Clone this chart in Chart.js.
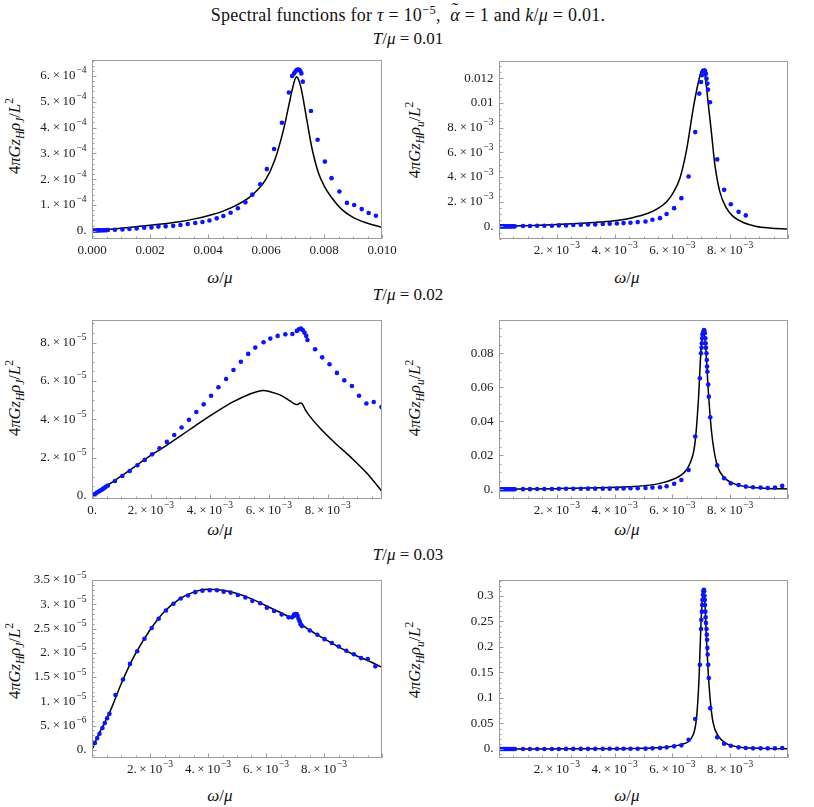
<!DOCTYPE html>
<html>
<head>
<meta charset="utf-8">
<script src="https://cdn.jsdelivr.net/npm/chart.js@4.4.1/dist/chart.umd.min.js"></script>
<style>
  body { margin: 0; background: #fff; width: 814px; height: 807px; position: relative; overflow: hidden;
         font-family: "Liberation Serif", "DejaVu Serif", serif; color: #111; }
  .lbl { position: absolute; white-space: nowrap; transform: translate(-50%, -50%); line-height: 1; }
  .ylbl { transform: translate(-50%, -50%) rotate(-90deg); font-size: 16.5px; }
  .xlbl { font-size: 17px; }
  .sec { font-size: 17px; }
  sub, sup { font-size: 70%; line-height: 0; }
  .box { position: absolute; }
  .acc { position: relative; display: inline-block; }
  .acc .t { position: absolute; left: 0.1em; top: -0.28em; font-style: normal; }
</style>
</head>
<body>

<div class="lbl" style="left:408px;top:15px;font-size:18px;letter-spacing:0.25px">Spectral functions for <i>τ</i> = 10<sup>−5</sup>, &nbsp;<i class="acc">α<span class="t">˜</span></i> = 1 and <i>k</i>/<i>μ</i> = 0.01.</div>
<div class="lbl sec" style="left:408px;top:38px"><i>T</i>/<i>μ</i> = 0.01</div>
<div class="lbl sec" style="left:408px;top:294px"><i>T</i>/<i>μ</i> = 0.02</div>
<div class="lbl sec" style="left:408px;top:554px"><i>T</i>/<i>μ</i> = 0.03</div>

<div class="lbl ylbl" style="left:15px;top:136px">4<i>πGz</i><sub><i>H</i></sub><i>ρ</i><sub><i>J</i></sub>/<i>L</i><sup>2</sup></div>
<div class="lbl ylbl" style="left:415px;top:140px">4<i>πGz</i><sub><i>H</i></sub><i>ρ</i><sub><i>u</i></sub>/<i>L</i><sup>2</sup></div>
<div class="lbl ylbl" style="left:15px;top:398px">4<i>πGz</i><sub><i>H</i></sub><i>ρ</i><sub><i>J</i></sub>/<i>L</i><sup>2</sup></div>
<div class="lbl ylbl" style="left:415px;top:398px">4<i>πGz</i><sub><i>H</i></sub><i>ρ</i><sub><i>u</i></sub>/<i>L</i><sup>2</sup></div>
<div class="lbl ylbl" style="left:15px;top:661px">4<i>πGz</i><sub><i>H</i></sub><i>ρ</i><sub><i>J</i></sub>/<i>L</i><sup>2</sup></div>
<div class="lbl ylbl" style="left:415px;top:660px">4<i>πGz</i><sub><i>H</i></sub><i>ρ</i><sub><i>u</i></sub>/<i>L</i><sup>2</sup></div>

<div class="lbl xlbl" style="left:220px;top:277px"><i>ω</i>/<i>μ</i></div>
<div class="lbl xlbl" style="left:627px;top:277px"><i>ω</i>/<i>μ</i></div>
<div class="lbl xlbl" style="left:220px;top:529px"><i>ω</i>/<i>μ</i></div>
<div class="lbl xlbl" style="left:627px;top:529px"><i>ω</i>/<i>μ</i></div>
<div class="lbl xlbl" style="left:220px;top:795px"><i>ω</i>/<i>μ</i></div>
<div class="lbl xlbl" style="left:627px;top:795px"><i>ω</i>/<i>μ</i></div>

<script>
// ---- tick values and labels ----
const xTicksMilli = [0.002, 0.004, 0.006, 0.008];
const xLabelsMilli = ['2.\u2009×\u200910⁻³', '4.\u2009×\u200910⁻³', '6.\u2009×\u200910⁻³', '8.\u2009×\u200910⁻³'];
const p1XTicks = [0, 0.002, 0.004, 0.006, 0.008, 0.01];
const p1XLabels = ['0.000', '0.002', '0.004', '0.006', '0.008', '0.010'];
const p3XTicks = [0, 0.002, 0.004, 0.006, 0.008];
const p3XLabels = ['0.', '2.\u2009×\u200910⁻³', '4.\u2009×\u200910⁻³', '6.\u2009×\u200910⁻³', '8.\u2009×\u200910⁻³'];

const p1YTicks = [0, 1e-4, 2e-4, 3e-4, 4e-4, 5e-4, 6e-4];
const p1YLabels = ['0.', '1.\u2009×\u200910⁻⁴', '2.\u2009×\u200910⁻⁴', '3.\u2009×\u200910⁻⁴', '4.\u2009×\u200910⁻⁴', '5.\u2009×\u200910⁻⁴', '6.\u2009×\u200910⁻⁴'];
const p2YTicks = [0, 0.002, 0.004, 0.006, 0.008, 0.01, 0.012];
const p2YLabels = ['0.', '2.\u2009×\u200910⁻³', '4.\u2009×\u200910⁻³', '6.\u2009×\u200910⁻³', '8.\u2009×\u200910⁻³', '0.01', '0.012'];
const p3YTicks = [0, 2e-5, 4e-5, 6e-5, 8e-5];
const p3YLabels = ['0.', '2.\u2009×\u200910⁻⁵', '4.\u2009×\u200910⁻⁵', '6.\u2009×\u200910⁻⁵', '8.\u2009×\u200910⁻⁵'];
const p4YTicks = [0, 0.02, 0.04, 0.06, 0.08];
const p4YLabels = ['0.', '0.02', '0.04', '0.06', '0.08'];
const p5YTicks = [0, 5e-6, 1e-5, 1.5e-5, 2e-5, 2.5e-5, 3e-5, 3.5e-5];
const p5YLabels = ['0.', '5.\u2009×\u200910⁻⁶', '1.\u2009×\u200910⁻⁵', '1.5\u2009×\u200910⁻⁵', '2.\u2009×\u200910⁻⁵', '2.5\u2009×\u200910⁻⁵', '3.\u2009×\u200910⁻⁵', '3.5\u2009×\u200910⁻⁵'];
const p6YTicks = [0, 0.05, 0.1, 0.15, 0.2, 0.25, 0.3];
const p6YLabels = ['0.', '0.05', '0.1', '0.15', '0.2', '0.25', '0.3'];

// ---- T/mu = 0.01, rho_J ----
const p1DotX = [0.00005, 0.0001, 0.00015, 0.0002, 0.00025, 0.0003, 0.00035, 0.0004, 0.00045, 0.0005, 0.00055,
  0.00079, 0.00105, 0.00129, 0.00154, 0.0018, 0.00205, 0.00229, 0.00254, 0.0028, 0.00305, 0.0033, 0.00356,
  0.00381, 0.00405, 0.0043, 0.00453, 0.00478, 0.00503, 0.00529, 0.00553, 0.0058, 0.00603, 0.00628, 0.00655,
  0.00679, 0.0069, 0.00697, 0.00702, 0.00706, 0.0071, 0.00714, 0.00718, 0.00722, 0.00727, 0.00755, 0.00778,
  0.00803, 0.00826, 0.00853, 0.00879, 0.00904, 0.0093, 0.00954, 0.00979];
const p1DotY = [1e-6, 1e-6, 1e-6, 1.5e-6, 1.5e-6, 1.5e-6, 2e-6, 2e-6, 2e-6, 2.5e-6, 3e-6,
  4e-6, 5e-6, 6.5e-6, 9e-6, 1.2e-5, 1.3e-5, 1.6e-5, 1.7e-5, 1.9e-5, 2.2e-5, 2.6e-5, 3.0e-5,
  3.4e-5, 4.0e-5, 4.8e-5, 5.7e-5, 7.0e-5, 8.7e-5, 1.10e-4, 1.40e-4, 1.80e-4, 2.39e-4, 3.17e-4, 4.19e-4,
  5.36e-4, 6.0e-4, 6.1e-4, 6.18e-4, 6.23e-4, 6.25e-4, 6.24e-4, 6.2e-4, 6.1e-4, 5.78e-4, 4.64e-4, 3.53e-4,
  2.68e-4, 2.04e-4, 1.52e-4, 1.08e-4, 1.0e-4, 8.4e-5, 6.9e-5, 5.8e-5];
const p1LineX = [0, 0.001, 0.002, 0.003, 0.0035, 0.004, 0.0045, 0.005, 0.0055, 0.006, 0.0063, 0.0066, 0.0068,
  0.0069, 0.007, 0.00705, 0.0071, 0.0072, 0.0073, 0.0074, 0.0075, 0.0076, 0.0078, 0.008, 0.0083, 0.0086, 0.009, 0.0095, 0.01];
const p1LineY = [0, 1.0e-5, 2.1e-5, 3.5e-5, 4.5e-5, 5.8e-5, 7.5e-5, 1.0e-4, 1.36e-4, 2.0e-4, 2.73e-4, 3.9e-4, 4.93e-4,
  5.45e-4, 5.87e-4, 5.97e-4, 5.92e-4, 5.58e-4, 5.0e-4, 4.35e-4, 3.7e-4, 3.12e-4, 2.27e-4, 1.75e-4, 1.23e-4, 8.4e-5, 5.2e-5, 2.9e-5, 1.3e-5];

// ---- T/mu = 0.01, rho_u ----
const p2DotX = [0.00005, 0.0001, 0.00015, 0.0002, 0.00025, 0.0003, 0.00035, 0.0004, 0.00045, 0.0005, 0.00055,
  0.00083, 0.00107, 0.00132, 0.00157, 0.00183, 0.00207, 0.00232, 0.00257, 0.00283, 0.00308, 0.00333, 0.00359,
  0.00383, 0.00408, 0.00431, 0.00455, 0.0048, 0.00507, 0.00531, 0.00557, 0.0058, 0.00606, 0.00631, 0.00656,
  0.00679, 0.00693, 0.00699, 0.00702, 0.00706, 0.0071, 0.00713, 0.00716, 0.00718, 0.00721, 0.00723, 0.0073,
  0.00755, 0.00779, 0.00802, 0.00829, 0.00854];
const p2DotY = [0, 0, 0, 0, 1e-6, 1e-6, 1e-6, 2e-6, 2e-6, 3e-6, 3e-6,
  3e-5, 3e-5, 5e-5, 5e-5, 5e-5, 8e-5, 8e-5, 1.1e-4, 1.3e-4, 1.6e-4, 1.6e-4, 1.9e-4,
  2.2e-4, 2.4e-4, 2.7e-4, 3.0e-4, 3.5e-4, 4.0e-4, 5.4e-4, 6.7e-4, 1.0e-3, 1.48e-3, 2.29e-3, 4.04e-3,
  7.64e-3, 1.076e-2, 1.17e-2, 1.224e-2, 1.256e-2, 1.264e-2, 1.259e-2, 1.237e-2, 1.197e-2, 1.157e-2, 1.108e-2, 1.006e-2,
  5.43e-3, 2.96e-3, 1.80e-3, 1.18e-3, 8.9e-4];
const p2LineX = [0, 0.0012, 0.00236, 0.0035, 0.00408, 0.00466, 0.00511, 0.00546, 0.0058, 0.00603, 0.00626, 0.00649,
  0.00672, 0.0069, 0.00701, 0.00706, 0.00713, 0.00724, 0.00736, 0.00747, 0.00764, 0.00787, 0.0081, 0.00845, 0.00891, 0.00937, 0.01];
const p2LineY = [0, 8e-5, 1.9e-4, 3.5e-4, 4.8e-4, 7.3e-4, 1.02e-3, 1.4e-3, 2.0e-3, 2.74e-3, 3.9e-3, 6.2e-3,
  9.55e-3, 1.17e-2, 1.265e-2, 1.272e-2, 1.224e-2, 9.95e-3, 7.4e-3, 4.98e-3, 2.82e-3, 1.48e-3, 8.1e-4, 3.2e-4, 0, -1.3e-4, -2.2e-4];

// ---- T/mu = 0.02, rho_J ----
const p3DotX = [0.00003, 0.00008, 0.00013, 0.00018, 0.00023, 0.00028, 0.00033, 0.00038, 0.00043, 0.00048, 0.00054,
  0.00078, 0.00103, 0.00128, 0.00154, 0.00179, 0.00204, 0.00229, 0.00254, 0.00279, 0.00304, 0.00329, 0.00354,
  0.00379, 0.00404, 0.00429, 0.00455, 0.0048, 0.00505, 0.0053, 0.00554, 0.00582, 0.00605, 0.0063, 0.00656,
  0.0068, 0.00695, 0.00702, 0.00709, 0.00715, 0.00721, 0.00727, 0.00731, 0.00757, 0.00781, 0.00806, 0.00831,
  0.00856, 0.00882, 0.00906, 0.00931, 0.00956, 0.00982];
const p3DotY = [3e-7, 8e-7, 1.3e-6, 1.9e-6, 2.3e-6, 2.8e-6, 3.2e-6, 3.8e-6, 4.3e-6, 4.9e-6, 5.4e-6,
  7.8e-6, 1.04e-5, 1.30e-5, 1.60e-5, 1.88e-5, 2.17e-5, 2.49e-5, 2.82e-5, 3.18e-5, 3.57e-5, 3.97e-5, 4.38e-5,
  4.78e-5, 5.23e-5, 5.67e-5, 6.10e-5, 6.57e-5, 7.00e-5, 7.41e-5, 7.74e-5, 8.02e-5, 8.21e-5, 8.35e-5, 8.43e-5,
  8.45e-5, 8.61e-5, 8.70e-5, 8.73e-5, 8.66e-5, 8.52e-5, 8.35e-5, 8.14e-5, 7.65e-5, 7.23e-5, 6.87e-5, 6.42e-5,
  6.03e-5, 5.74e-5, 5.23e-5, 4.82e-5, 4.90e-5, 4.64e-5];
const p3LineX = [0, 0.00105, 0.00207, 0.00253, 0.00304, 0.00366, 0.00423, 0.0048, 0.00536, 0.00559, 0.00582, 0.00604,
  0.00638, 0.00672, 0.0069, 0.00698, 0.00706, 0.00712, 0.00723, 0.0074, 0.00774, 0.0082, 0.00876, 0.00933, 0.00984];
const p3LineY = [0, 1.10e-5, 2.19e-5, 2.64e-5, 3.17e-5, 3.83e-5, 4.40e-5, 4.92e-5, 5.32e-5, 5.44e-5, 5.50e-5, 5.44e-5,
  5.27e-5, 4.96e-5, 4.78e-5, 4.77e-5, 4.85e-5, 4.83e-5, 4.52e-5, 4.14e-5, 3.53e-5, 2.83e-5, 2.05e-5, 1.18e-5, 2.3e-6];

// ---- T/mu = 0.02, rho_u ----
const p4DotX = [0.00005, 0.0001, 0.00015, 0.0002, 0.00025, 0.0003, 0.00035, 0.0004, 0.00045, 0.0005, 0.00055,
  0.00083, 0.00107, 0.00132, 0.00157, 0.00183, 0.00207, 0.00232, 0.00257, 0.00283, 0.00308, 0.00333, 0.00359,
  0.00383, 0.00408, 0.00431, 0.00455, 0.0048, 0.00507, 0.00531, 0.00557, 0.0058, 0.00606, 0.00631, 0.00656,
  0.00679, 0.00695, 0.00699, 0.00701, 0.00702, 0.00703, 0.00704, 0.00707, 0.00709, 0.00711, 0.00712, 0.00714,
  0.00715, 0.00716, 0.00718, 0.00719, 0.0072, 0.00721, 0.00724, 0.00726, 0.00731, 0.00755, 0.00779, 0.00802,
  0.00829, 0.00854, 0.00879, 0.00905, 0.0093, 0.00955, 0.0098];
const p4DotY = [0, 0, 0, 0, 0, 1e-5, 1e-5, 1e-5, 1e-5, 2e-5, 2e-5,
  1e-4, 1e-4, 2e-4, 2e-4, 2e-4, 3e-4, 3e-4, 3e-4, 3e-4, 4e-4, 4e-4, 4e-4,
  4e-4, 5e-4, 5e-4, 6e-4, 6e-4, 8e-4, 1.0e-3, 1.2e-3, 1.8e-3, 3.3e-3, 5.5e-3, 1.14e-2,
  0.031, 0.0653, 0.080, 0.0833, 0.0859, 0.0888, 0.0912, 0.0927, 0.0937, 0.0933, 0.0918, 0.0888,
  0.0859, 0.0833, 0.080, 0.0761, 0.0722, 0.0692, 0.0616, 0.0545, 0.0424, 0.0141, 0.0065, 0.0035,
  0.0025, 0.0016, 0.0012, 0.0010, 0.0008, 0.0010, 0.0020];
const p4LineX = [0, 0.002, 0.0035, 0.00466, 0.00557, 0.00603, 0.00638, 0.00661, 0.00678, 0.0069, 0.00699, 0.00707,
  0.00715, 0.00724, 0.00736, 0.00753, 0.00776, 0.0081, 0.0087, 0.0093, 0.01];
const p4LineY = [0, 0.0004, 0.0009, 0.0016, 0.0035, 0.0059, 0.0094, 0.0153, 0.027, 0.0525, 0.082, 0.0927,
  0.084, 0.0584, 0.033, 0.0153, 0.0075, 0.0035, 0.0012, 0.0005, 0.0002];

// ---- T/mu = 0.03, rho_J ----
const p5DotX = [0.0001, 0.00018, 0.00026, 0.00036, 0.00044, 0.00052, 0.0006,
  0.00081, 0.00107, 0.00131, 0.00156, 0.00181, 0.00206, 0.0023, 0.00255, 0.00281, 0.00306, 0.00331, 0.00356,
  0.00381, 0.00406, 0.00431, 0.00454, 0.00478, 0.00503, 0.00529, 0.00553, 0.0058, 0.00603, 0.00628, 0.00654,
  0.00678, 0.0069, 0.00696, 0.00701, 0.00706, 0.00709, 0.00712, 0.00716, 0.00719, 0.00724, 0.00751, 0.00777,
  0.00802, 0.00827, 0.00851, 0.00877, 0.00903, 0.00928, 0.00951, 0.00977];
const p5DotY = [1.4e-6, 2.4e-6, 3.3e-6, 4.5e-6, 5.5e-6, 6.5e-6, 7.4e-6,
  1.13e-5, 1.45e-5, 1.77e-5, 2.03e-5, 2.29e-5, 2.51e-5, 2.70e-5, 2.87e-5, 3.01e-5, 3.12e-5, 3.18e-5, 3.25e-5,
  3.28e-5, 3.29e-5, 3.29e-5, 3.26e-5, 3.24e-5, 3.19e-5, 3.14e-5, 3.07e-5, 3.02e-5, 2.93e-5, 2.86e-5, 2.79e-5,
  2.73e-5, 2.73e-5, 2.78e-5, 2.80e-5, 2.80e-5, 2.76e-5, 2.70e-5, 2.65e-5, 2.59e-5, 2.55e-5, 2.46e-5, 2.37e-5,
  2.28e-5, 2.20e-5, 2.13e-5, 2.04e-5, 1.97e-5, 1.89e-5, 1.87e-5, 1.72e-5];
const p5LineX = [0, 0.0002, 0.0004, 0.0006, 0.0008, 0.001, 0.0012, 0.0015, 0.002, 0.0025, 0.003, 0.0035, 0.004,
  0.0045, 0.005, 0.0055, 0.006, 0.0065, 0.0068, 0.0069, 0.007, 0.00708, 0.00715, 0.0072, 0.0075, 0.008, 0.0085,
  0.009, 0.0095, 0.01];
const p5LineY = [0, 2.8e-6, 5.2e-6, 7.6e-6, 1.05e-5, 1.35e-5, 1.62e-5, 1.98e-5, 2.47e-5, 2.85e-5, 3.10e-5, 3.25e-5, 3.31e-5,
  3.29e-5, 3.22e-5, 3.11e-5, 2.97e-5, 2.83e-5, 2.74e-5, 2.72e-5, 2.74e-5, 2.78e-5, 2.70e-5, 2.62e-5, 2.47e-5, 2.29e-5, 2.12e-5,
  1.97e-5, 1.84e-5, 1.70e-5];

// ---- T/mu = 0.03, rho_u ----
const p6DotX = [0.00005, 0.0001, 0.00015, 0.0002, 0.00025, 0.0003, 0.00035, 0.0004, 0.00045, 0.0005, 0.00055,
  0.00083, 0.00107, 0.00132, 0.00157, 0.00183, 0.00207, 0.00232, 0.00257, 0.00283, 0.00308, 0.00333, 0.00359,
  0.00383, 0.00408, 0.00431, 0.00455, 0.0048, 0.00507, 0.00531, 0.00557, 0.0058, 0.00606, 0.00631, 0.00656,
  0.00679, 0.00695, 0.00699, 0.007, 0.00702, 0.00703, 0.00704, 0.00706, 0.00707, 0.00709, 0.0071, 0.00711,
  0.00712, 0.00713, 0.00714, 0.00715, 0.00716, 0.00718, 0.00719, 0.0072, 0.00721, 0.00722, 0.00724, 0.00726,
  0.00731, 0.00755, 0.00779, 0.00802, 0.00829, 0.00854, 0.00879, 0.00905, 0.0093, 0.00955, 0.0098];
const p6DotY = [0, 0, 0, 0, 0, 0, 0, 0, 0, 0, 0,
  0, 0, 1e-4, 1e-4, 1e-4, 1e-4, 2e-4, 2e-4, 2e-4, 3e-4, 3e-4, 3e-4,
  4e-4, 4e-4, 5e-4, 5e-4, 6e-4, 7e-4, 1.3e-3, 2.0e-3, 3.3e-3, 5.2e-3, 7.2e-3, 0.018,
  0.0587, 0.165, 0.235, 0.253, 0.269, 0.282, 0.292, 0.302, 0.309, 0.312, 0.309, 0.300,
  0.292, 0.282, 0.269, 0.258, 0.247, 0.235, 0.224, 0.214, 0.198, 0.185, 0.165, 0.139,
  0.080, 0.0228, 0.0104, 0.0065, 0.0033, 0.0020, 0.0013, 0.0013, 0.0013, 0.0013, 0.0020];
const p6LineX = [0, 0.003, 0.005, 0.0058, 0.0063, 0.00672, 0.00684, 0.00692, 0.00699, 0.00705, 0.00709, 0.00713,
  0.00718, 0.00724, 0.00732, 0.00741, 0.00759, 0.00787, 0.0083, 0.009, 0.01];
const p6LineY = [0, 0.0005, 0.0015, 0.004, 0.009, 0.028, 0.064, 0.136, 0.247, 0.299, 0.302, 0.28,
  0.214, 0.149, 0.09, 0.051, 0.025, 0.0104, 0.004, 0.0015, 0.0005];

// ---- layout ----
const Y_AXIS_W = 88, PAD_TOP = 10, PAD_RIGHT = 24, X_AXIS_H = 30;
const FONT = "'Liberation Serif', 'DejaVu Serif', serif";

const panels = [
  { frame: [92, 60, 382, 239], xr: [0, 0.01], yr: [-3.2e-5, 6.62e-4], xt: p1XTicks, xl: p1XLabels, yt: p1YTicks, yl: p1YLabels,
    yMajor: 1e-4, yMinor: 2e-5, dx: p1DotX, dy: p1DotY, lx: p1LineX, ly: p1LineY },
  { frame: [499, 61, 788, 239], xr: [0, 0.01], yr: [-1.02e-3, 1.34e-2], xt: xTicksMilli, xl: xLabelsMilli, yt: p2YTicks, yl: p2YLabels,
    yMajor: 0.002, yMinor: 0.0005, dx: p2DotX, dy: p2DotY, lx: p2LineX, ly: p2LineY },
  { frame: [92, 320, 382, 499], xr: [0, 0.00984], yr: [-1.6e-6, 9.18e-5], xt: p3XTicks, xl: p3XLabels, yt: p3YTicks, yl: p3YLabels,
    yMajor: 2e-5, yMinor: 5e-6, dx: p3DotX, dy: p3DotY, lx: p3LineX, ly: p3LineY },
  { frame: [499, 320, 788, 499], xr: [0, 0.01], yr: [-0.0057, 0.0996], xt: xTicksMilli, xl: xLabelsMilli, yt: p4YTicks, yl: p4YLabels,
    yMajor: 0.02, yMinor: 0.005, dx: p4DotX, dy: p4DotY, lx: p4LineX, ly: p4LineY },
  { frame: [92, 580, 382, 758], xr: [0, 0.01], yr: [-1.7e-6, 3.5e-5], xt: xTicksMilli, xl: xLabelsMilli, yt: p5YTicks, yl: p5YLabels,
    yMajor: 5e-6, yMinor: 1e-6, dx: p5DotX, dy: p5DotY, lx: p5LineX, ly: p5LineY },
  { frame: [499, 580, 788, 758], xr: [0, 0.01], yr: [-0.0176, 0.331], xt: xTicksMilli, xl: xLabelsMilli, yt: p6YTicks, yl: p6YLabels,
    yMajor: 0.05, yMinor: 0.01, dx: p6DotX, dy: p6DotY, lx: p6LineX, ly: p6LineY }
];

// tick label with a real raised exponent ("6. × 10" + "−4")
const SUP = { '⁻': '−', '⁰': '0', '¹': '1', '²': '2', '³': '3', '⁴': '4', '⁵': '5', '⁶': '6', '⁷': '7', '⁸': '8', '⁹': '9' };
function drawTickLabel(ctx, text, x, y, align) {
  const m = text.match(/^(.*?)([⁻⁰¹²³⁴⁵⁶⁷⁸⁹]+)$/);
  const base = m ? m[1] : text;
  const exp = m ? Array.from(m[2]).map((c) => SUP[c]).join('') : '';
  ctx.font = '13px ' + FONT;
  const bw = ctx.measureText(base).width;
  ctx.font = '9.5px ' + FONT;
  const ew = exp ? ctx.measureText(exp).width + 0.8 : 0;
  const left = align === 'right' ? x - bw - ew : x - (bw + ew) / 2;
  ctx.textAlign = 'left';
  ctx.textBaseline = 'middle';
  ctx.font = '13px ' + FONT;
  ctx.fillText(base, left, y);
  if (exp) {
    ctx.font = '9.5px ' + FONT;
    ctx.fillText(exp, left + bw + 0.8, y - 5);
  }
}

// Mathematica-like frame with inward major/minor ticks on the left and bottom sides
const frameTicks = {
  id: 'frameTicks',
  afterDatasetsDraw(chart, args, opts) {
    const { ctx, chartArea: a } = chart;
    const xs = chart.scales.x, ys = chart.scales.y;
    const L = Math.round(a.left) + 0.5, R = Math.round(a.right) - 0.5;
    const T = Math.round(a.top) + 0.5, B = Math.round(a.bottom) - 0.5;
    ctx.save();
    ctx.strokeStyle = '#9c9c9c';
    ctx.lineWidth = 1;
    ctx.strokeRect(L, T, R - L, B - T);
    ctx.beginPath();
    const mark = (scale, step, major, vertical) => {
      for (let i = Math.ceil(scale.min / step - 1e-6); i * step <= scale.max + step * 1e-6; i++) {
        const v = i * step;
        const r = v / major;
        const len = Math.abs(r - Math.round(r)) < 1e-6 ? 4 : 2;
        const p = Math.round(scale.getPixelForValue(v)) + 0.5;
        if (vertical) { ctx.moveTo(L, p); ctx.lineTo(L + len, p); }
        else { ctx.moveTo(p, B); ctx.lineTo(p, B - len); }
      }
    };
    mark(xs, opts.xMinor, opts.xMajor, false);
    mark(ys, opts.yMinor, opts.yMajor, true);
    ctx.stroke();

    ctx.fillStyle = '#1a1a1a';
    xs.ticks.forEach((t, i) => drawTickLabel(ctx, opts.xLabels[i], xs.getPixelForValue(t.value), B + 12, 'center'));
    ys.ticks.forEach((t, i) => drawTickLabel(ctx, opts.yLabels[i], L - 6, ys.getPixelForValue(t.value), 'right'));
    ctx.restore();
  }
};

panels.forEach((p) => {
  const [fl, ft, fr, fb] = p.frame;
  const box = document.createElement('div');
  box.className = 'box';
  box.style.left = (fl - Y_AXIS_W) + 'px';
  box.style.top = (ft - PAD_TOP) + 'px';
  box.style.width = (fr - fl + Y_AXIS_W + PAD_RIGHT) + 'px';
  box.style.height = (fb - ft + PAD_TOP + X_AXIS_H) + 'px';
  const canvas = document.createElement('canvas');
  box.appendChild(canvas);
  document.body.appendChild(box);

  new Chart(canvas, {
    type: 'scatter',
    data: {
      datasets: [
        {
          data: p.dx.map((x, i) => ({ x: x, y: p.dy[i] })),
          showLine: false,
          pointRadius: 2.3,
          pointBorderWidth: 0,
          pointBackgroundColor: '#0a14ff',
          order: 0
        },
        {
          data: p.lx.map((x, i) => ({ x: x, y: p.ly[i] })),
          showLine: true,
          borderColor: '#000',
          borderWidth: 1.5,
          pointRadius: 0,
          cubicInterpolationMode: 'monotone',
          order: 1
        }
      ]
    },
    options: {
      responsive: true,
      maintainAspectRatio: false,
      animation: false,
      events: [],
      layout: { padding: { top: PAD_TOP, right: PAD_RIGHT, left: 0, bottom: 0 } },
      plugins: {
        legend: { display: false },
        tooltip: { enabled: false },
        frameTicks: { xMajor: 0.002, xMinor: 0.0005, yMajor: p.yMajor, yMinor: p.yMinor, xLabels: p.xl, yLabels: p.yl }
      },
      scales: {
        x: {
          type: 'linear', min: p.xr[0], max: p.xr[1],
          grid: { display: false, drawTicks: false },
          border: { display: false },
          afterBuildTicks: (s) => { s.ticks = p.xt.map((v) => ({ value: v })); },
          afterFit: (s) => { s.height = X_AXIS_H; },
          ticks: { display: false, autoSkip: false }
        },
        y: {
          type: 'linear', min: p.yr[0], max: p.yr[1],
          grid: { display: false, drawTicks: false },
          border: { display: false },
          afterBuildTicks: (s) => { s.ticks = p.yt.map((v) => ({ value: v })); },
          afterFit: (s) => { s.width = Y_AXIS_W; },
          ticks: { display: false, autoSkip: false }
        }
      }
    },
    plugins: [frameTicks]
  });
});
</script>
</body>
</html>
